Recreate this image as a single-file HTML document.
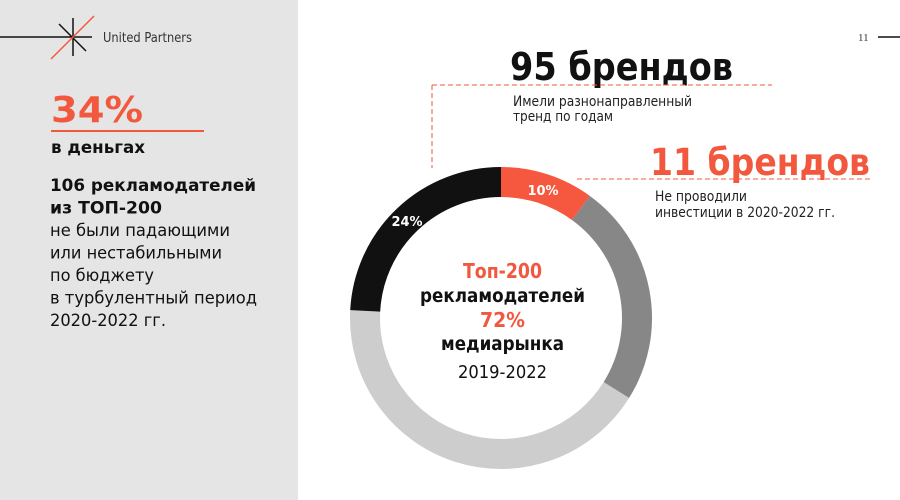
<!DOCTYPE html>
<html><head><meta charset="utf-8"><style>
html,body{margin:0;padding:0;background:#fff;}
svg{display:block;}
text{font-family:"DejaVu Sans","Liberation Sans",sans-serif;}
.b{font-weight:bold;}
</style></head><body>
<svg width="900" height="500" viewBox="0 0 900 500" xmlns="http://www.w3.org/2000/svg">
<rect x="0" y="0" width="900" height="500" fill="#ffffff"/>
<rect x="0" y="0" width="298" height="500" fill="#e5e5e5"/>

<!-- logo -->
<line x1="0" y1="37" x2="92" y2="37" stroke="#111" stroke-width="1.5"/>
<line x1="73" y1="18" x2="73" y2="56" stroke="#111" stroke-width="1.5"/>
<line x1="59" y1="24" x2="86" y2="51" stroke="#111" stroke-width="1.5"/>
<line x1="51" y1="59" x2="94" y2="16" stroke="#f2583e" stroke-width="1.5"/>
<text x="103" y="42" font-size="13" fill="#333" textLength="89" lengthAdjust="spacingAndGlyphs">United Partners</text>

<!-- left block -->
<text x="51" y="122" class="b" font-size="36" fill="#f2583e" textLength="92" lengthAdjust="spacingAndGlyphs">34%</text>
<line x1="51" y1="131" x2="204" y2="131" stroke="#f2583e" stroke-width="2"/>
<text x="51" y="153" class="b" font-size="17" fill="#111" textLength="94" lengthAdjust="spacingAndGlyphs">в деньгах</text>

<text x="50" y="191" class="b" font-size="17" fill="#111" textLength="206" lengthAdjust="spacingAndGlyphs">106 рекламодателей</text>
<text x="50" y="213.5" class="b" font-size="17" fill="#111" textLength="112" lengthAdjust="spacingAndGlyphs">из ТОП-200</text>
<text x="50" y="236" font-size="17" fill="#111" textLength="180" lengthAdjust="spacingAndGlyphs">не были падающими</text>
<text x="50" y="258.5" font-size="17" fill="#111" textLength="172" lengthAdjust="spacingAndGlyphs">или нестабильными</text>
<text x="50" y="281" font-size="17" fill="#111" textLength="104" lengthAdjust="spacingAndGlyphs">по бюджету</text>
<text x="50" y="303.5" font-size="17" fill="#111" textLength="207" lengthAdjust="spacingAndGlyphs">в турбулентный период</text>
<text x="50" y="326" font-size="17" fill="#111" textLength="116" lengthAdjust="spacingAndGlyphs">2020-2022 гг.</text>

<!-- page number -->
<text x="858" y="41" font-family="Liberation Serif, serif" font-size="11" fill="#333" style="font-family:'Liberation Serif',serif">11</text>
<line x1="878" y1="37" x2="900" y2="37" stroke="#111" stroke-width="1.5"/>

<!-- 95 brands -->
<text x="510" y="80" class="b" font-size="38" fill="#111" textLength="223" lengthAdjust="spacingAndGlyphs">95 брендов</text>
<line x1="432" y1="85" x2="772" y2="85" stroke="#f2583e" stroke-width="1" stroke-dasharray="5,3"/>
<line x1="432" y1="85" x2="432" y2="168" stroke="#f2583e" stroke-width="1" stroke-dasharray="5,3"/>
<text x="513" y="106" font-size="14" fill="#222" textLength="179" lengthAdjust="spacingAndGlyphs">Имели разнонаправленный</text>
<text x="513" y="121" font-size="14" fill="#222" textLength="100" lengthAdjust="spacingAndGlyphs">тренд по годам</text>

<!-- 11 brands -->
<text x="650" y="175" class="b" font-size="37" fill="#f2583e" textLength="220" lengthAdjust="spacingAndGlyphs">11 брендов</text>
<line x1="577" y1="179" x2="873" y2="179" stroke="#f2583e" stroke-width="1" stroke-dasharray="5,3"/>
<text x="655" y="201" font-size="14" fill="#222" textLength="92" lengthAdjust="spacingAndGlyphs">Не проводили</text>
<text x="655" y="217" font-size="14" fill="#222" textLength="180" lengthAdjust="spacingAndGlyphs">инвестиции в 2020-2022 гг.</text>

<!-- donut -->
<g fill="none" stroke-width="30">
<path d="M501,182 A136,136 0 0 1 580.94,207.97" stroke="#f5573f"/>
<path d="M580.94,207.97 A136,136 0 0 1 616.33,390.07" stroke="#878787"/>
<path d="M616.33,390.07 A136,136 0 0 1 365.19,310.88" stroke="#cdcdcd"/>
<path d="M365.19,310.88 A136,136 0 0 1 501,182" stroke="#111111"/>
</g>
<text x="543" y="195" class="b" font-size="13" fill="#fff" text-anchor="middle">10%</text>
<text x="407" y="226" class="b" font-size="13" fill="#fff" text-anchor="middle">24%</text>

<text x="463" y="278" class="b" font-size="20" fill="#f2583e" textLength="79" lengthAdjust="spacingAndGlyphs">Топ-200</text>
<text x="420" y="302" class="b" font-size="19" fill="#111" textLength="165" lengthAdjust="spacingAndGlyphs">рекламодателей</text>
<text x="480" y="327" class="b" font-size="20" fill="#f2583e" textLength="45" lengthAdjust="spacingAndGlyphs">72%</text>
<text x="441" y="350" class="b" font-size="19" fill="#111" textLength="123" lengthAdjust="spacingAndGlyphs">медиарынка</text>
<text x="458" y="378" font-size="18" fill="#111" textLength="89" lengthAdjust="spacingAndGlyphs">2019-2022</text>
</svg>
</body></html>
